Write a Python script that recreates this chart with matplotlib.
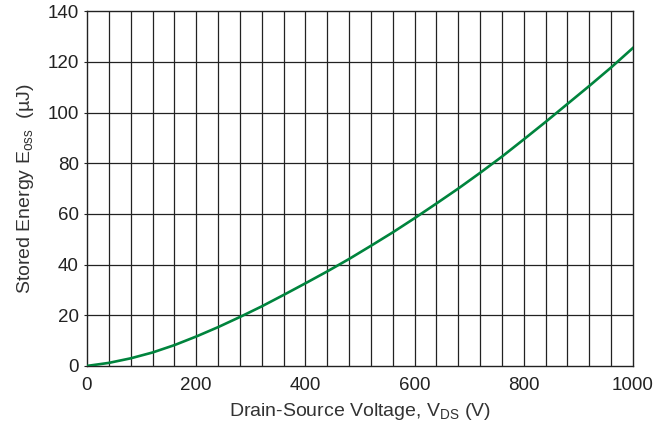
import matplotlib
matplotlib.use('Agg')
import matplotlib.pyplot as plt

plt.rcParams['font.family'] = ['Liberation Sans', 'DejaVu Sans']
plt.rcParams['mathtext.fontset'] = 'custom'
plt.rcParams['mathtext.rm'] = 'Liberation Sans'

# Eoss curve: drain-source voltage (V) vs stored energy (uJ)
vds = [0, 40, 80, 120, 160, 200, 240, 280, 320, 360, 400, 440, 480, 520,
       560, 600, 640, 680, 720, 760, 800, 840, 880, 920, 960, 1000]
eoss = [0, 1.2, 3.0, 5.3, 8.2, 11.6, 15.3, 19.3, 23.5, 28.0, 32.6, 37.3, 42.2,
        47.4, 52.7, 58.3, 64.1, 70.0, 76.2, 82.6, 89.4, 96.3, 103.4, 110.5,
        117.8, 125.5]

x_ticks = [0, 200, 400, 600, 800, 1000]
y_ticks = [0, 20, 40, 60, 80, 100, 120, 140]

fig = plt.figure(figsize=(6.59, 4.30), dpi=100)
ax = fig.add_axes([0.132, 0.149, 0.8285, 0.825])

# grid: vertical every 40 V, horizontal every 20 uJ
for v in range(40, 1000, 40):
    ax.axvline(v, color='#222222', linewidth=0.9, zorder=1)
for e in range(20, 140, 20):
    ax.axhline(e, color='#222222', linewidth=0.9, zorder=1)

ax.plot(vds, eoss, color='#00843d', linewidth=1.9, zorder=3)

ax.set_xlim(0, 1000)
ax.set_ylim(0, 140)
ax.set_xticks(x_ticks)
ax.set_yticks(y_ticks)
ax.tick_params(axis='x', length=0, labelsize=13.5, colors='#222222', pad=8)
ax.tick_params(axis='y', length=2, width=0.8, labelsize=13.5, colors='#222222', pad=4)
for s in ax.spines.values():
    s.set_color('#222222')
    s.set_linewidth(1.0)

ax.set_xlabel(r'Drain-Source Voltage, V$_{\mathregular{DS}}$ (V)', fontsize=14, color='#333333', labelpad=5)
ax.set_ylabel(r'Stored Energy E$_{\mathregular{oss}}$  (µJ)', fontsize=14, color='#333333', labelpad=8)

fig.savefig('out.png', dpi=100)
